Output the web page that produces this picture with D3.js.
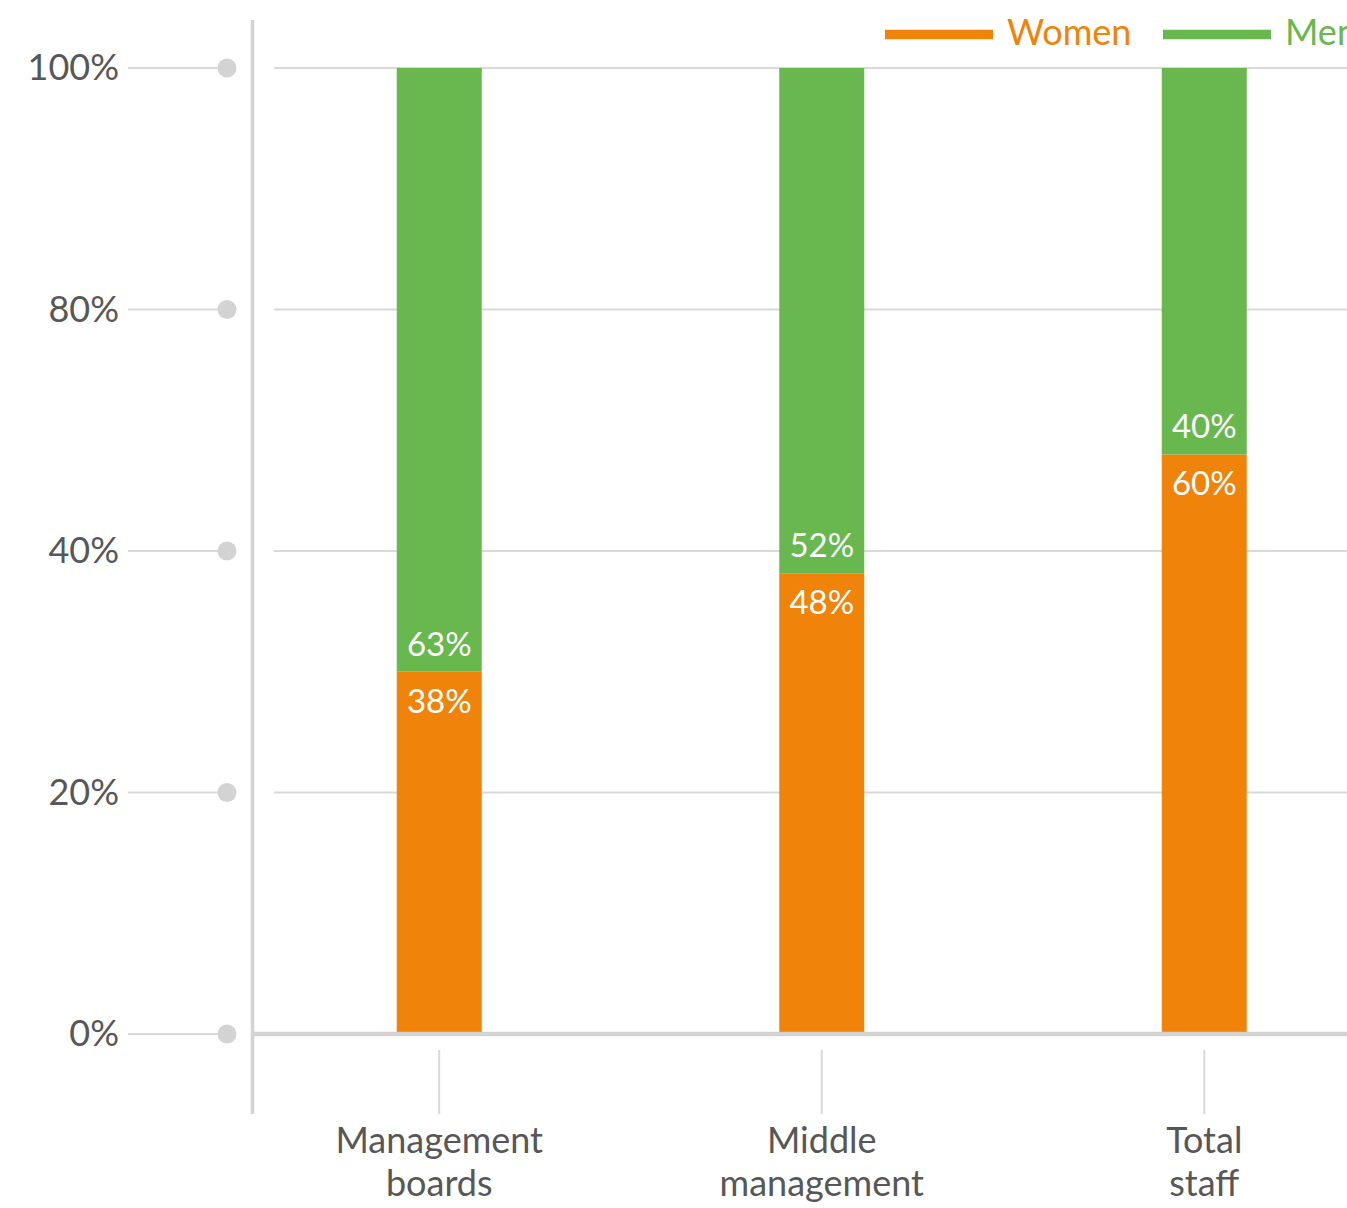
<!DOCTYPE html>
<html>
<head>
<meta charset="utf-8">
<script src="https://cdn.jsdelivr.net/npm/d3@7"></script>
<style>
  html, body { margin: 0; padding: 0; background: #fff; overflow: hidden; }
  svg { display: block; font-family: Lato, "Open Sans", sans-serif; }
</style>
</head>
<body>
<svg id="chart" width="1347" height="1208"></svg>
<script>
// ---- data ----
const categories = ["Management boards", "Middle management", "Total staff"];
const categoryLines = [["Management", "boards"], ["Middle", "management"], ["Total", "staff"]];
const women = [0.375, 0.477, 0.600];
const men = [0.625, 0.523, 0.400];
const seriesNames = ["Women", "Men"];
const yTickValues = [0, 0.25, 0.5, 0.75, 1];
const yTickLabels = ["0%", "20%", "40%", "80%", "100%"];

// ---- styles ----
const ORANGE = "#f0830a";
const GREEN = "#69b74f";
const GRID = "#d9d9d9";
const AXIS = "#d3d3d3";
const TEXT = "#575757";

const svg = d3.select("#chart");
const W = 1347;

const y = d3.scaleLinear().domain([0, 1]).range([1034, 68]);
const x = d3.scaleBand().domain(categories).range([248, 1395.5])
  .paddingInner(1 - 85 / 382.5).paddingOuter((1 - 85 / 382.5) / 2);

// gridlines inside plot
svg.append("g").selectAll("line").data(yTickValues.filter(v => v > 0)).join("line")
  .attr("x1", 274).attr("x2", W)
  .attr("y1", d => y(d)).attr("y2", d => y(d))
  .attr("stroke", GRID).attr("stroke-width", 2);

// left tick lines, dots, labels
const yt = svg.append("g").selectAll("g").data(yTickValues).join("g")
  .attr("transform", d => `translate(0,${y(d)})`);
yt.append("line").attr("x1", 128).attr("x2", 222).attr("stroke", GRID).attr("stroke-width", 2);
yt.append("circle").attr("cx", 227).attr("r", 9.5).attr("fill", AXIS);
yt.append("text").attr("x", 119).attr("dy", "0.34em").attr("text-anchor", "end")
  .attr("font-size", 36).attr("fill", TEXT)
  .text((d, i) => yTickLabels[i]);

// vertical axis line
svg.append("line").attr("x1", 252.5).attr("x2", 252.5).attr("y1", 20).attr("y2", 1114)
  .attr("stroke", AXIS).attr("stroke-width", 3.5);

// bars
const stacked = categories.map((c, i) => ({ c, w: women[i], m: men[i] }));
const bars = svg.append("g");
bars.selectAll("rect.w").data(stacked).join("rect").attr("class", "w")
  .attr("x", d => x(d.c)).attr("width", x.bandwidth())
  .attr("y", d => y(d.w)).attr("height", d => y(0) - y(d.w))
  .attr("fill", ORANGE);
bars.selectAll("rect.m").data(stacked).join("rect").attr("class", "m")
  .attr("x", d => x(d.c)).attr("width", x.bandwidth())
  .attr("y", d => y(d.w + d.m)).attr("height", d => y(d.w) - y(d.w + d.m))
  .attr("fill", GREEN);

// baseline
svg.append("line").attr("x1", 254).attr("x2", W).attr("y1", 1034).attr("y2", 1034)
  .attr("stroke", AXIS).attr("stroke-width", 4.5);

// value labels
const fmt = d3.format(".0%");
const lab = svg.append("g").attr("font-size", 33).attr("font-weight", 400)
  .attr("fill", "#fff").attr("text-anchor", "middle");
lab.selectAll("text.m").data(stacked).join("text").attr("class", "m")
  .attr("x", d => x(d.c) + x.bandwidth() / 2).attr("y", d => y(d.w) - 16)
  .text(d => fmt(d.m));
lab.selectAll("text.w").data(stacked).join("text").attr("class", "w")
  .attr("x", d => x(d.c) + x.bandwidth() / 2).attr("y", d => y(d.w) + 41)
  .text(d => fmt(d.w));

// x ticks and category labels
const xt = svg.append("g").selectAll("g").data(categories).join("g")
  .attr("transform", d => `translate(${x(d) + x.bandwidth() / 2},0)`);
xt.append("line").attr("y1", 1050).attr("y2", 1114).attr("stroke", GRID).attr("stroke-width", 2);
xt.append("text").attr("text-anchor", "middle").attr("font-size", 36).attr("fill", TEXT)
  .selectAll("tspan").data((d, i) => categoryLines[i]).join("tspan")
  .attr("x", 0).attr("y", (d, j) => 1153 + j * 43).text(d => d);

// legend
const legColors = [ORANGE, GREEN];
const legX = [885, 1163];
const leg = svg.append("g").selectAll("g").data(seriesNames).join("g")
  .attr("transform", (d, i) => `translate(${legX[i]},34.5)`);
leg.append("line").attr("x1", 0).attr("x2", 108)
  .attr("stroke", (d, i) => legColors[i]).attr("stroke-width", 9.5);
leg.append("text").attr("x", 122).attr("dy", "0.29em").attr("font-size", 36)
  .attr("fill", (d, i) => legColors[i]).text(d => d);
</script>
</body>
</html>
